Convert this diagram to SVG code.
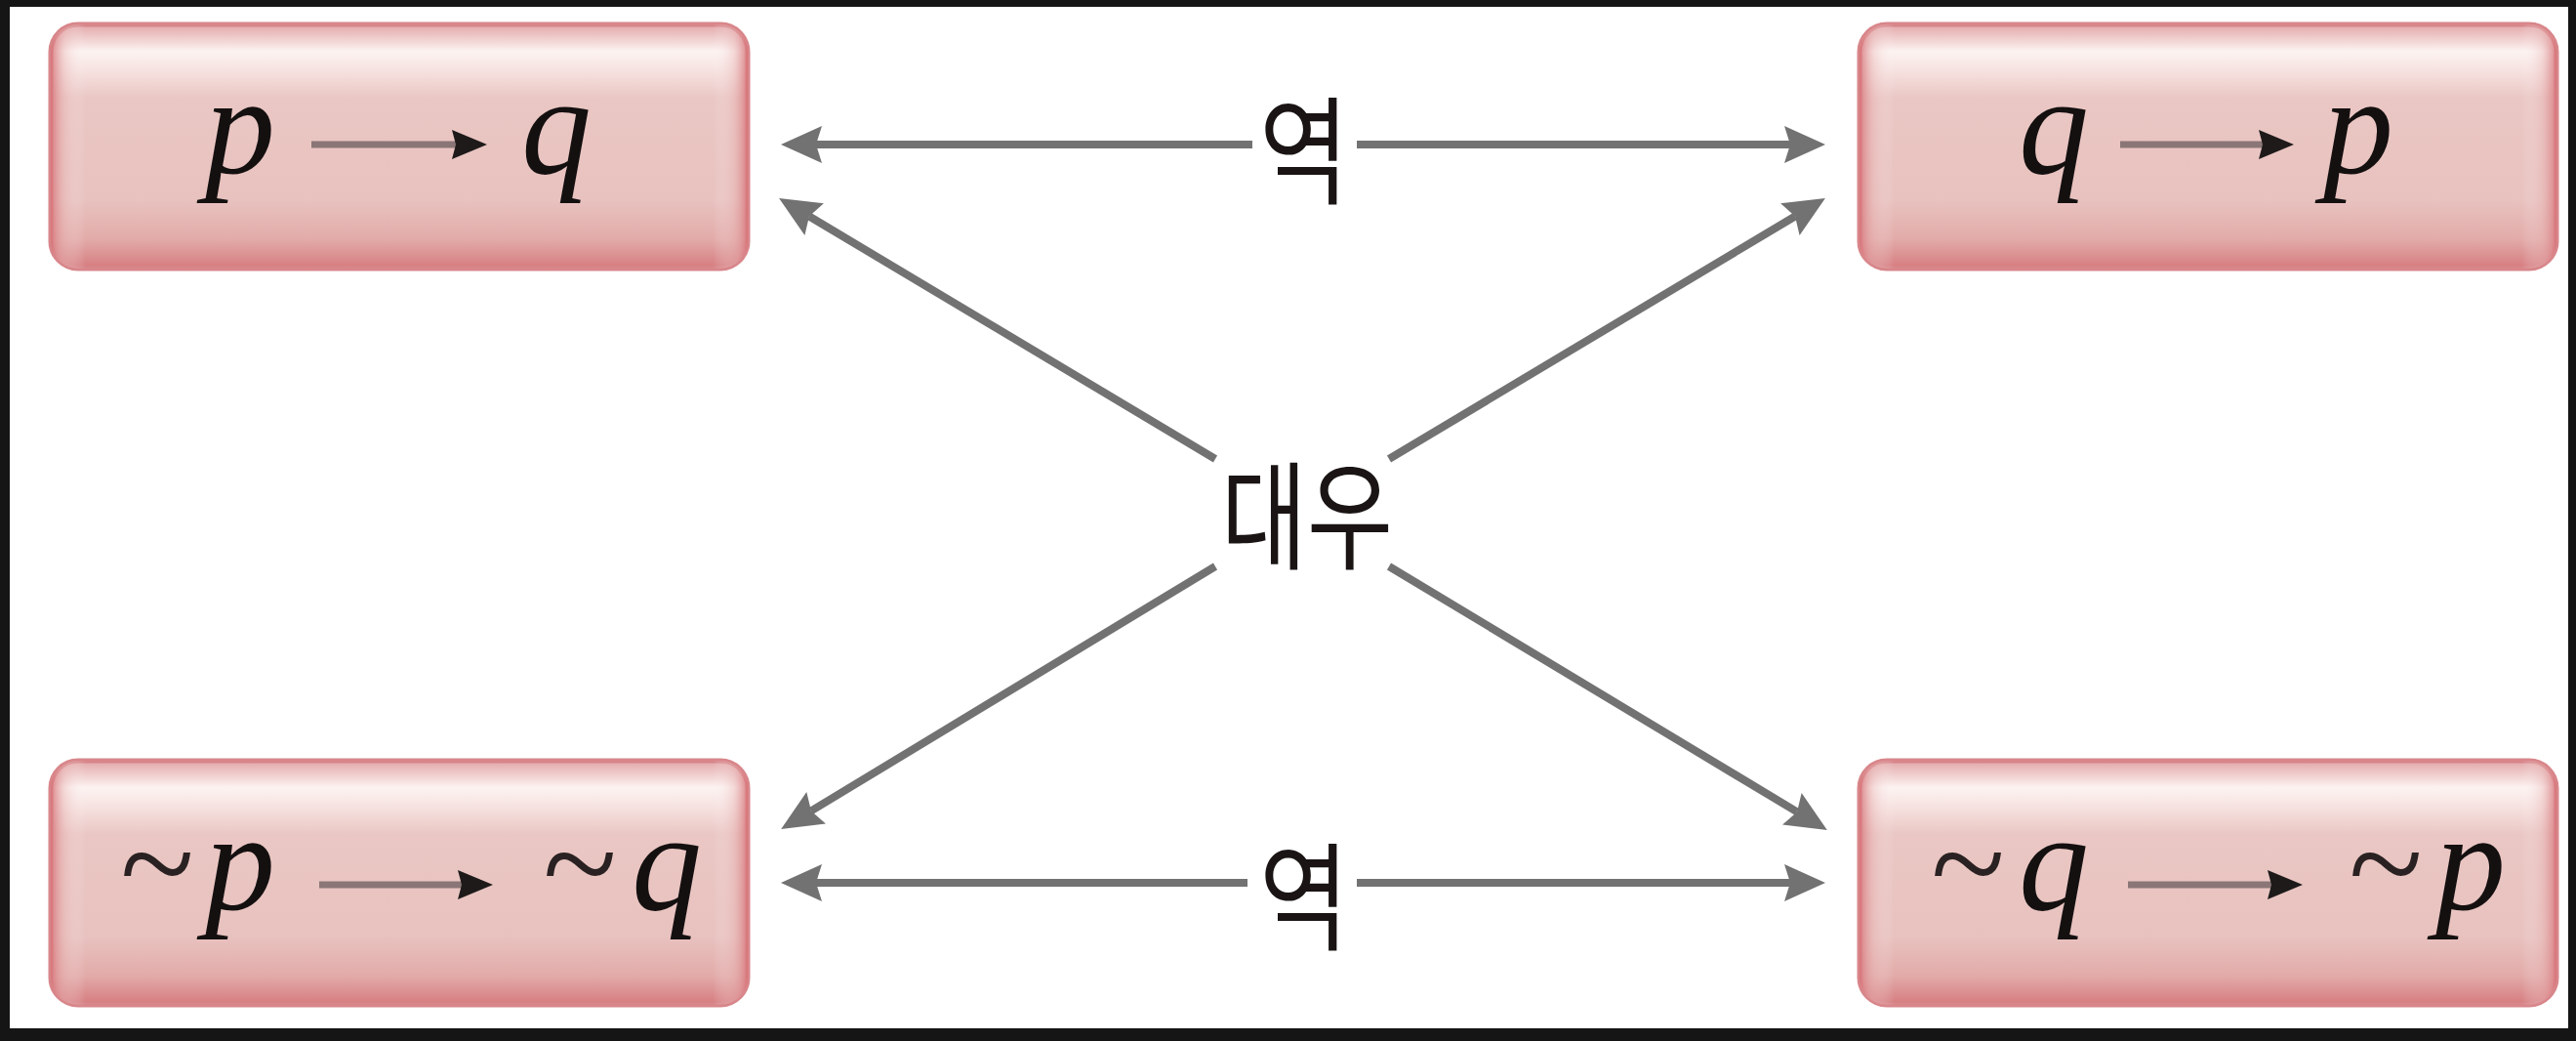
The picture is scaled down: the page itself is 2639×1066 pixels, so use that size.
<svg xmlns="http://www.w3.org/2000/svg" width="2639" height="1066" viewBox="0 0 2639 1066">
  <defs>
    <linearGradient id="boxFill" x1="0" y1="0" x2="0" y2="1">
      <stop offset="0" stop-color="#e3a6a8"/>
      <stop offset="0.05" stop-color="#eec9c9"/>
      <stop offset="0.11" stop-color="#fcf3f1"/>
      <stop offset="0.19" stop-color="#f6e2e0"/>
      <stop offset="0.3" stop-color="#eac7c4"/>
      <stop offset="0.72" stop-color="#e8c2bf"/>
      <stop offset="0.88" stop-color="#e2aba9"/>
      <stop offset="1" stop-color="#d67b7e"/>
    </linearGradient>
    <linearGradient id="boxSide" x1="0" y1="0" x2="1" y2="0">
      <stop offset="0" stop-color="#d77378" stop-opacity="0.9"/>
      <stop offset="0.02" stop-color="#e8b4b4" stop-opacity="0.4"/>
      <stop offset="0.05" stop-color="#ffffff" stop-opacity="0"/>
      <stop offset="0.95" stop-color="#ffffff" stop-opacity="0"/>
      <stop offset="0.98" stop-color="#e8b4b4" stop-opacity="0.4"/>
      <stop offset="1" stop-color="#d77378" stop-opacity="0.9"/>
    </linearGradient>
    <marker id="head" markerUnits="userSpaceOnUse" markerWidth="46" markerHeight="44" viewBox="0 -22 46 44" refX="6" refY="0" orient="auto" overflow="visible">
      <path d="M0,-19 L42,0 L0,19 L6,0 z" fill="#727272"/>
    </marker>
    <marker id="inner" markerUnits="userSpaceOnUse" markerWidth="40" markerHeight="34" viewBox="0 -17 40 34" refX="4" refY="0" orient="auto" overflow="visible">
      <path d="M0,-15 L36,0 L0,15 L4,0 z" fill="#1e1a1a"/>
    </marker>
    <style>
      .box { fill: url(#boxFill); stroke: #d8868a; stroke-width: 5; }
      .side { fill: url(#boxSide); stroke: none; }
      .sym { font-family: "Liberation Serif", "Times New Roman", serif; font-style: italic; font-size: 144px; fill: #141010; text-anchor: middle; }
      .tilde { font-family: "Liberation Serif", "Times New Roman", serif; font-size: 140px; fill: #2a2222; text-anchor: middle; }
      .imp { stroke: #8a7676; stroke-width: 7; fill: none; marker-end: url(#inner); }
      .conn { stroke: #727272; stroke-width: 8; fill: none; marker-end: url(#head); }
      .lbl { font-family: "Noto Sans CJK KR", "Noto Sans", sans-serif; font-size: 120px; fill: #1a1414; text-anchor: middle; }
    </style>
  </defs>

  <rect x="0" y="0" width="2639" height="1066" fill="#ffffff"/>
  <path d="M0,0 H2639 V1066 H0 Z M10,7 V1053 H2631 V7 Z" fill="#151515" fill-rule="evenodd"/>

  <g id="connectors">
    <line class="conn" x1="1283" y1="148" x2="836" y2="148"/>
    <line class="conn" x1="1390" y1="148" x2="1834" y2="148"/>
    <line class="conn" x1="1278" y1="904" x2="836" y2="904"/>
    <line class="conn" x1="1390" y1="904" x2="1834" y2="904"/>
    <line class="conn" x1="1245" y1="470" x2="829" y2="221.5"/>
    <line class="conn" x1="1423" y1="470" x2="1839" y2="221.5"/>
    <line class="conn" x1="1245" y1="580" x2="831" y2="830.4"/>
    <line class="conn" x1="1423" y1="580" x2="1841" y2="831.4"/>
    <text class="lbl" x="1336" y="200" textLength="92" lengthAdjust="spacingAndGlyphs">역</text>
    <text class="lbl" x="1336" y="964" textLength="92" lengthAdjust="spacingAndGlyphs">역</text>
    <text class="lbl" x="1339" y="574" textLength="176" lengthAdjust="spacingAndGlyphs">대우</text>
  </g>

  <g id="node-p-q">
    <rect class="box" x="52" y="25" width="714" height="250" rx="28"/>
    <rect class="side" x="52" y="25" width="714" height="250" rx="28"/>
    <text class="sym" x="246" y="177">p</text>
    <line class="imp" x1="319" y1="148" x2="467" y2="148"/>
    <text class="sym" x="570" y="177">q</text>
  </g>

  <g id="node-q-p">
    <rect class="box" x="1905" y="25" width="714" height="250" rx="28"/>
    <rect class="side" x="1905" y="25" width="714" height="250" rx="28"/>
    <text class="sym" x="2104" y="177">q</text>
    <line class="imp" x1="2172" y1="148" x2="2318" y2="148"/>
    <text class="sym" x="2416" y="177">p</text>
  </g>

  <g id="node-np-nq">
    <rect class="box" x="52" y="779" width="714" height="250" rx="28"/>
    <rect class="side" x="52" y="779" width="714" height="250" rx="28"/>
    <text class="tilde" x="161" y="931">~</text>
    <text class="sym" x="246" y="931">p</text>
    <line class="imp" x1="327" y1="906" x2="473" y2="906"/>
    <text class="tilde" x="594" y="931">~</text>
    <text class="sym" x="683" y="931">q</text>
  </g>

  <g id="node-nq-np">
    <rect class="box" x="1905" y="779" width="714" height="250" rx="28"/>
    <rect class="side" x="1905" y="779" width="714" height="250" rx="28"/>
    <text class="tilde" x="2016" y="931">~</text>
    <text class="sym" x="2104" y="931">q</text>
    <line class="imp" x1="2180" y1="906" x2="2327" y2="906"/>
    <text class="tilde" x="2444" y="931">~</text>
    <text class="sym" x="2531" y="931">p</text>
  </g>
</svg>
